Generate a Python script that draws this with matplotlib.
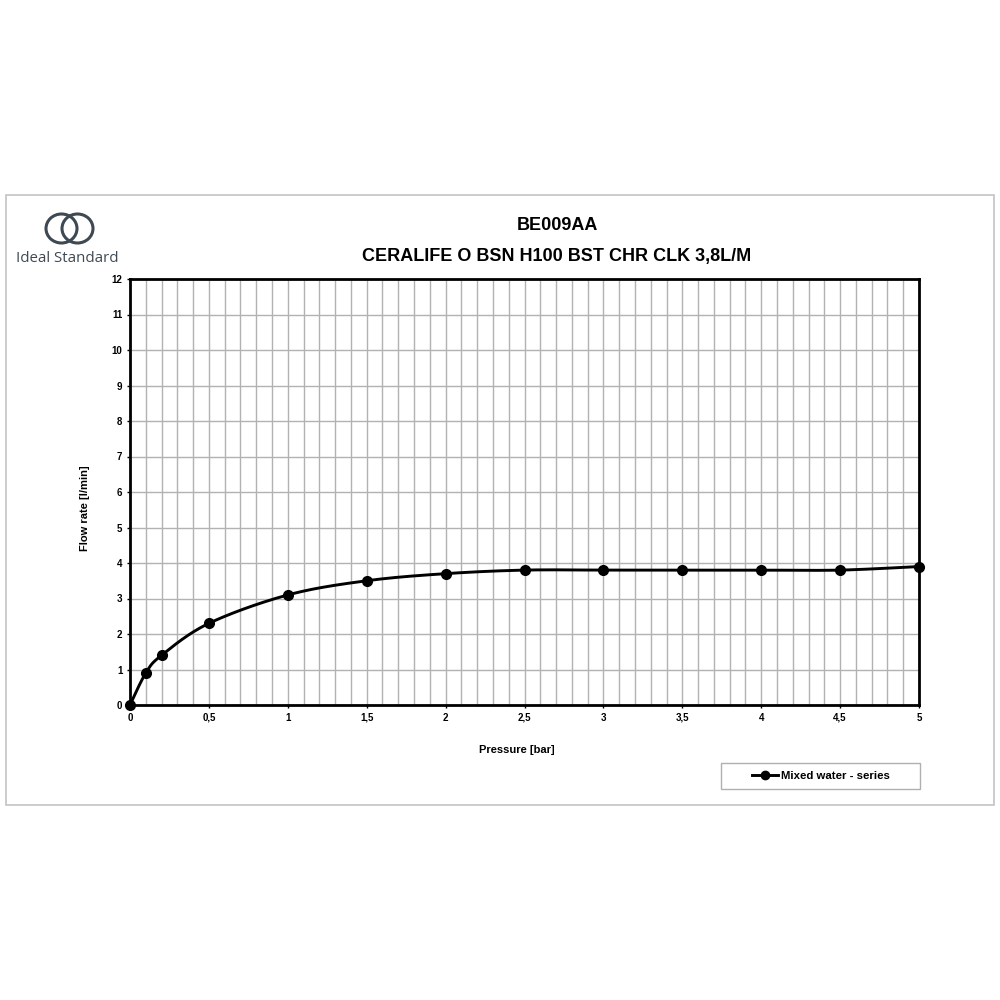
import numpy as np
import matplotlib
matplotlib.use("Agg")
import matplotlib.pyplot as plt
from matplotlib.patches import Rectangle, Ellipse
from matplotlib.lines import Line2D

plt.rcParams['font.family'] = ['Liberation Sans', 'DejaVu Sans']

pressure = [0, 0.1, 0.2, 0.5, 1, 1.5, 2, 2.5, 3, 3.5, 4, 4.5, 5]
flow = [0, 0.9, 1.4, 2.3, 3.1, 3.5, 3.7, 3.8, 3.8, 3.8, 3.8, 3.8, 3.9]
x_ticks = [0, 0.5, 1, 1.5, 2, 2.5, 3, 3.5, 4, 4.5, 5]
x_tick_labels = ['0', '0,5', '1', '1,5', '2', '2,5', '3', '3,5', '4', '4,5', '5']
y_ticks = list(range(0, 13))
title_lines = ['BE009AA', 'CERALIFE O BSN H100 BST CHR CLK 3,8L/M']
series_name = 'Mixed water - series'


def smooth(xs, ys, n=40):
    xs = np.asarray(xs, float); ys = np.asarray(ys, float)
    px, py = [], []
    m = len(xs)
    for i in range(m - 1):
        x0, y0 = (xs[i-1], ys[i-1]) if i > 0 else (xs[i], ys[i])
        x1, y1 = xs[i], ys[i]
        x2, y2 = xs[i+1], ys[i+1]
        x3, y3 = (xs[i+2], ys[i+2]) if i + 2 < m else (xs[i+1], ys[i+1])
        c1x, c1y = x1 + (x2 - x0) / 6, y1 + (y2 - y0) / 6
        c2x, c2y = x2 - (x3 - x1) / 6, y2 - (y3 - y1) / 6
        t = np.linspace(0, 1, n)
        bx = (1-t)**3*x1 + 3*(1-t)**2*t*c1x + 3*(1-t)*t**2*c2x + t**3*x2
        by = (1-t)**3*y1 + 3*(1-t)**2*t*c1y + 3*(1-t)*t**2*c2y + t**3*y2
        px.extend(bx); py.extend(by)
    return np.array(px), np.array(py)


fig = plt.figure(figsize=(10, 10), dpi=100)
fig.patch.set_facecolor('white')

# outer frame
fig.add_artist(Rectangle((0.006, 0.195), 0.988, 0.610, transform=fig.transFigure,
                         fill=False, edgecolor='#c4c4c4', linewidth=1.2))

# logo
logo_color = '#3e4953'
fig.add_artist(Ellipse((0.0615, 0.7715), 0.031, 0.029, transform=fig.transFigure,
                       fill=False, edgecolor=logo_color, linewidth=2.2))
fig.add_artist(Ellipse((0.0775, 0.7715), 0.031, 0.029, transform=fig.transFigure,
                       fill=False, edgecolor=logo_color, linewidth=2.2))
fig.text(0.0675, 0.742, 'Ideal Standard', ha='center', va='center', fontsize=10.8,
         color=logo_color, family=['Open Sans', 'DejaVu Sans'])

# titles
fig.text(0.557, 0.774, title_lines[0], ha='center', va='center', fontsize=13,
         fontweight='bold')
fig.text(0.557, 0.744, title_lines[1], ha='center', va='center', fontsize=13,
         fontweight='bold')

ax = fig.add_axes([0.130, 0.295, 0.789, 0.426])
ax.set_xlim(0, 5)
ax.set_ylim(0, 12)
ax.set_xticks(x_ticks)
ax.set_xticklabels(x_tick_labels)
ax.set_yticks(y_ticks)
ax.set_xticks(np.arange(0, 5.0001, 0.1), minor=True)
ax.grid(which='major', color='#b2b2b2', linewidth=1.0)
ax.grid(which='minor', axis='x', color='#b2b2b2', linewidth=1.0)
ax.tick_params(which='minor', length=0)
ax.tick_params(which='major', length=2.5, width=1, labelsize=7, pad=3)
for lab in ax.get_xticklabels() + ax.get_yticklabels():
    lab.set_fontweight('bold')
for s in ax.spines.values():
    s.set_linewidth(2)
    s.set_color('black')
ax.set_axisbelow(True)

sx, sy = smooth(pressure, flow)
ax.plot(sx, sy, color='black', linewidth=2.1, zorder=3, clip_on=False)
ax.plot(pressure, flow, linestyle='none', marker='o', markersize=7,
        color='black', zorder=4, clip_on=False)

fig.text(0.085, 0.492, 'Flow rate [l/min]', rotation=90, ha='center', va='center',
         fontsize=8, fontweight='bold')
fig.text(0.517, 0.250, 'Pressure [bar]', ha='center', va='center',
         fontsize=8, fontweight='bold')

# legend box
fig.add_artist(Rectangle((0.721, 0.211), 0.199, 0.026, transform=fig.transFigure,
                         fill=False, edgecolor='#b0b0b0', linewidth=1))
handle = Line2D([], [], color='black', linewidth=2.1, marker='o', markersize=6)
leg = fig.legend([handle], [series_name], loc='center', bbox_to_anchor=(0.8205, 0.224),
                 frameon=False, prop={'weight': 'bold', 'size': 8.2},
                 handlelength=2.3, handletextpad=0.25)

fig.savefig('out.png', dpi=100, facecolor='white')
